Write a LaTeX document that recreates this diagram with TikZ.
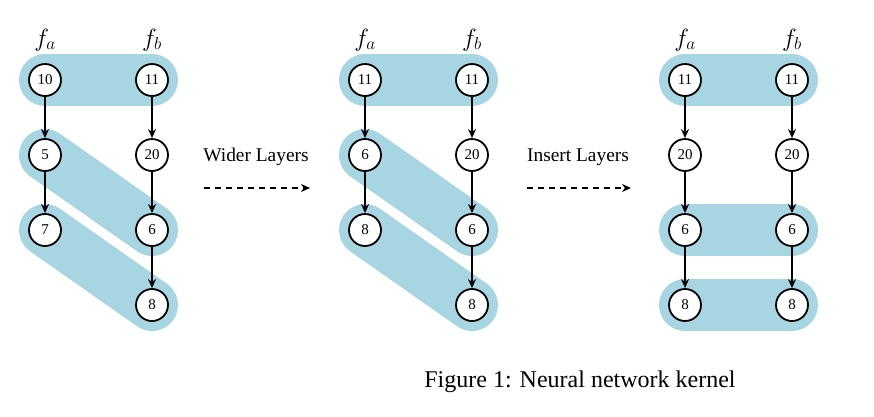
\documentclass[tikz,border=0pt]{standalone}
\usepackage{fontspec}
\setmainfont{Liberation Serif}
\usetikzlibrary{arrows.meta,backgrounds}
\definecolor{bandblue}{RGB}{168,213,226}
\tikzset{
  nn/.style={circle,draw=black,line width=1.8pt,fill=white,minimum size=32pt,inner sep=0pt,font=\fontsize{15}{15}\selectfont},
  band/.style={line width=52pt,line cap=round,draw=bandblue},
  conn/.style={-{Stealth[length=9pt,width=8pt]},line width=1.5pt},
  lbl/.style={font=\fontsize{25}{25}\selectfont},
  op/.style={font=\fontsize{19.4}{19.4}\selectfont},
  oparrow/.style={-{Stealth[length=9pt,width=8pt]},line width=1.5pt,dash pattern=on 6pt off 5pt},
}
\begin{document}
\begin{tikzpicture}[x=1pt,y=-1pt]
\useasboundingbox (0,0) rectangle (874,416);
% Left panel
\node[lbl] (LfA) at (45,40) {$f_a$};
\node[lbl] (LfB) at (152,40) {$f_b$};
\node[nn] (La1) at (45,80) {10};
\node[nn] (Lb1) at (152,80) {11};
\node[nn] (La2) at (45,155) {5};
\node[nn] (Lb2) at (152,155) {20};
\node[nn] (La3) at (45,230) {7};
\node[nn] (Lb3) at (152,230) {6};
\node[nn] (Lb4) at (152,305) {8};
% Middle panel
\node[lbl] (MfA) at (365,40) {$f_a$};
\node[lbl] (MfB) at (472,40) {$f_b$};
\node[nn] (Ma1) at (365,80) {11};
\node[nn] (Mb1) at (472,80) {11};
\node[nn] (Ma2) at (365,155) {6};
\node[nn] (Mb2) at (472,155) {20};
\node[nn] (Ma3) at (365,230) {8};
\node[nn] (Mb3) at (472,230) {6};
\node[nn] (Mb4) at (472,305) {8};
% Right panel
\node[lbl] (RfA) at (685,40) {$f_a$};
\node[lbl] (RfB) at (792,40) {$f_b$};
\node[nn] (Ra1) at (685,80) {11};
\node[nn] (Rb1) at (792,80) {11};
\node[nn] (Ra2) at (685,155) {20};
\node[nn] (Rb2) at (792,155) {20};
\node[nn] (Ra3) at (685,230) {6};
\node[nn] (Rb3) at (792,230) {6};
\node[nn] (Ra4) at (685,305) {8};
\node[nn] (Rb4) at (792,305) {8};
% bands
\begin{scope}[on background layer]
\draw[band] (La1.center) -- (Lb1.center);
\draw[band] (La2.center) -- (Lb3.center);
\draw[band] (La3.center) -- (Lb4.center);
\draw[band] (Ma1.center) -- (Mb1.center);
\draw[band] (Ma2.center) -- (Mb3.center);
\draw[band] (Ma3.center) -- (Mb4.center);
\draw[band] (Ra1.center) -- (Rb1.center);
\draw[band] (Ra3.center) -- (Rb3.center);
\draw[band] (Ra4.center) -- (Rb4.center);
\end{scope}
% connectors
\draw[conn] (La1) -- (La2);
\draw[conn] (La2) -- (La3);
\draw[conn] (Lb1) -- (Lb2);
\draw[conn] (Lb2) -- (Lb3);
\draw[conn] (Lb3) -- (Lb4);
\draw[conn] (Ma1) -- (Ma2);
\draw[conn] (Ma2) -- (Ma3);
\draw[conn] (Mb1) -- (Mb2);
\draw[conn] (Mb2) -- (Mb3);
\draw[conn] (Mb3) -- (Mb4);
\draw[conn] (Ra1) -- (Ra2);
\draw[conn] (Ra2) -- (Ra3);
\draw[conn] (Ra3) -- (Ra4);
\draw[conn] (Rb1) -- (Rb2);
\draw[conn] (Rb2) -- (Rb3);
\draw[conn] (Rb3) -- (Rb4);
% operations
\node[op] (W) at (256,157) {Wider Layers};
\coordinate (W1) at (204,188);
\coordinate (W2) at (310,188);
\draw[oparrow] (W1) -- (W2);
\node[op] (I) at (578,157) {Insert Layers};
\coordinate (I1) at (527,188);
\coordinate (I2) at (631,188);
\draw[oparrow] (I1) -- (I2);
% caption
\node[font=\fontsize{24}{24}\selectfont] (cap) at (580,382) {Figure 1: Neural network kernel};
\end{tikzpicture}
\end{document}
